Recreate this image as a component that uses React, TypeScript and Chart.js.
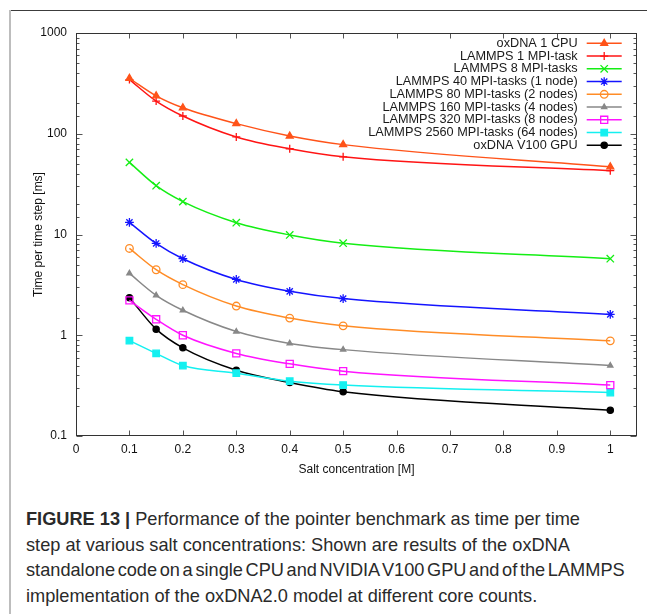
import React, { useEffect, useRef } from 'react';
import { Chart, registerables } from 'chart.js';
import { drawPoint } from 'chart.js/helpers';

Chart.register(...registerables);

// ---- data ----
const saltConcentrations = [0.1, 0.15, 0.2, 0.3, 0.4, 0.5, 1.0];
const oxdnaCpu = [355, 238, 181, 126, 95, 78, 47];
const lammps1 = [345, 211, 150, 93, 71, 59, 43];
const lammps8 = [52, 30.5, 21.2, 13.1, 9.9, 8.2, 5.75];
const lammps40 = [13.2, 8.15, 5.75, 3.58, 2.73, 2.31, 1.61];
const lammps80 = [7.27, 4.47, 3.18, 1.95, 1.48, 1.24, 0.88];
const lammps160 = [4.11, 2.49, 1.77, 1.09, 0.83, 0.72, 0.5];
const lammps320 = [2.22, 1.44, 1.0, 0.66, 0.52, 0.44, 0.32];
const lammps2560 = [0.885, 0.66, 0.5, 0.42, 0.35, 0.32, 0.27];
const oxdnaGpu = [2.36, 1.15, 0.75, 0.45, 0.34, 0.275, 0.18];

const seriesLabels = [
  'oxDNA 1 CPU',
  'LAMMPS 1 MPI-task',
  'LAMMPS 8 MPI-tasks',
  'LAMMPS 40 MPI-tasks (1 node)',
  'LAMMPS 80 MPI-tasks (2 nodes)',
  'LAMMPS 160 MPI-tasks (4 nodes)',
  'LAMMPS 320 MPI-tasks (8 nodes)',
  'LAMMPS 2560 MPI-tasks (64 nodes)',
  'oxDNA V100 GPU',
];
const seriesValues = [oxdnaCpu, lammps1, lammps8, lammps40, lammps80, lammps160, lammps320, lammps2560, oxdnaGpu];

const xTickValues = [0, 0.1, 0.2, 0.3, 0.4, 0.5, 0.6, 0.7, 0.8, 0.9, 1];
const yTickLabels = ['0.1', '1', '10', '100', '1000'];

const xTitle = 'Salt concentration [M]';
const yTitle = 'Time per time step [ms]';

// ---- styles ----
const seriesStyles = [
  { color: '#ff5319', pointStyle: 'triangle', radius: 4, fill: true },
  { color: '#ff1414', pointStyle: 'cross', radius: 4, fill: false },
  { color: '#14ee14', pointStyle: 'crossRot', radius: 5.2, fill: false },
  { color: '#1414ff', pointStyle: 'star', radius: 4.4, fill: false },
  { color: '#ff8c26', pointStyle: 'circle', radius: 3.8, fill: false },
  { color: '#888888', pointStyle: 'triangle', radius: 3, fill: true },
  { color: '#ff14ff', pointStyle: 'rect', radius: 5, fill: false },
  { color: '#14f0f0', pointStyle: 'rect', radius: 4.6, fill: true },
  { color: '#000000', pointStyle: 'circle', radius: 3.1, fill: true },
];

const FONT = '"Liberation Sans", Arial, Helvetica, sans-serif';

const boxTicksPlugin = {
  id: 'boxTicks',
  afterDatasetsDraw(chart: any) {
    const { ctx, chartArea: a, scales } = chart;
    const xs = scales.x;
    const ys = scales.y;
    const L = Math.round(a.left) + 0.5;
    const R = Math.round(a.right) - 0.5;
    const T = Math.round(a.top) + 0.5;
    const B = Math.round(a.bottom) - 0.5;
    ctx.save();
    ctx.strokeStyle = '#555';
    ctx.lineWidth = 1;
    ctx.beginPath();
    xs.ticks.forEach((t: any) => {
      const px = Math.round(xs.getPixelForValue(t.value)) + 0.5;
      ctx.moveTo(px, B);
      ctx.lineTo(px, B - 5);
      ctx.moveTo(px, T);
      ctx.lineTo(px, T + 5);
    });
    ys.ticks.forEach((t: any) => {
      const lg = Math.log10(t.value);
      const major = Math.abs(lg - Math.round(lg)) < 1e-6;
      const len = major ? 6 : 3;
      const py = Math.round(ys.getPixelForValue(t.value)) + 0.5;
      ctx.moveTo(L, py);
      ctx.lineTo(L + len, py);
      ctx.moveTo(R, py);
      ctx.lineTo(R - len, py);
    });
    ctx.stroke();
    ctx.strokeStyle = '#333';
    ctx.strokeRect(L, T, R - L, B - T);
    ctx.restore();
  },
};

const legendPlugin = {
  id: 'gnuLegend',
  afterDraw(chart: any) {
    const { ctx } = chart;
    const textRight = 565.7;
    const lineX0 = 574.7;
    const lineX1 = 609.7;
    const y0 = 31.3;
    const dy = 12.75;
    ctx.save();
    ctx.font = '12.7px ' + FONT;
    ctx.textAlign = 'right';
    ctx.textBaseline = 'middle';
    chart.data.datasets.forEach((ds: any, i: number) => {
      const y = y0 + i * dy;
      ctx.fillStyle = '#1a1a1a';
      ctx.fillText(ds.label, textRight, y);
      ctx.strokeStyle = ds.borderColor;
      ctx.lineWidth = ds.borderWidth;
      ctx.beginPath();
      ctx.moveTo(lineX0, y);
      ctx.lineTo(lineX1, y);
      ctx.stroke();
      ctx.fillStyle = ds.pointBackgroundColor;
      ctx.strokeStyle = ds.pointBorderColor;
      ctx.lineWidth = ds.pointBorderWidth;
      drawPoint(ctx, { pointStyle: ds.pointStyle, radius: ds.pointRadius, rotation: 0, borderWidth: ds.pointBorderWidth }, (lineX0 + lineX1) / 2, y);
    });
    ctx.restore();
  },
};

function ChartCanvas() {
  const ref = useRef<HTMLCanvasElement | null>(null);
  useEffect(() => {
    if (!ref.current) return;
    const datasets = seriesLabels.map((label, i) => {
      const st = seriesStyles[i];
      return {
        label,
        data: saltConcentrations.map((x, j) => ({ x, y: seriesValues[i][j] })),
        borderColor: st.color,
        backgroundColor: st.color,
        borderWidth: 1.5,
        pointStyle: st.pointStyle,
        pointRadius: st.radius,
        pointBorderWidth: 1.3,
        pointBorderColor: st.color,
        pointBackgroundColor: st.fill ? st.color : 'rgba(0,0,0,0)',
        cubicInterpolationMode: 'monotone',
        fill: false,
      };
    });
    const chart = new Chart(ref.current, {
      type: 'line',
      data: { datasets } as any,
      options: {
        animation: false,
        responsive: false,
        devicePixelRatio: 1,
        layout: { padding: { top: 21, right: 10, left: 0, bottom: 0 } },
        plugins: { legend: { display: false }, tooltip: { enabled: false } },
        scales: {
          x: {
            type: 'linear',
            min: 0,
            max: 1.05,
            afterBuildTicks: (scale: any) => {
              scale.ticks = xTickValues.map((v) => ({ value: v }));
            },
            afterFit: (scale: any) => {
              scale.height = 46;
            },
            ticks: {
              autoSkip: false,
              includeBounds: false,
              maxRotation: 0,
              padding: 6,
              color: '#111',
              font: { family: FONT, size: 12 },
              callback: (v: any) => String(Number(Number(v).toFixed(2))),
            },
            grid: { display: false, drawTicks: false, tickLength: 0 },
            border: { display: false },
            title: {
              display: true,
              text: xTitle,
              color: '#111',
              font: { family: FONT, size: 12 },
              padding: { top: 0, bottom: 5 },
            },
          },
          y: {
            type: 'logarithmic',
            min: 0.1,
            max: 1000,
            afterFit: (scale: any) => {
              scale.width = 64;
            },
            ticks: {
              autoSkip: false,
              padding: 9,
              color: '#111',
              font: { family: FONT, size: 12 },
              callback: (v: any) => {
                const lg = Math.log10(Number(v));
                if (Math.abs(lg - Math.round(lg)) > 1e-6) return '';
                return yTickLabels[Math.round(lg) + 1] ?? '';
              },
            },
            grid: { display: false, drawTicks: false, tickLength: 0 },
            border: { display: false },
            title: {
              display: true,
              text: yTitle,
              color: '#111',
              font: { family: FONT, size: 12 },
              padding: { top: 19, bottom: 0 },
            },
          },
        },
      } as any,
      plugins: [boxTicksPlugin, legendPlugin],
    });
    return () => chart.destroy();
  }, []);
  return (
    <canvas
      ref={ref}
      width={635}
      height={470}
      style={{ position: 'absolute', left: 12, top: 12, width: 635, height: 470 }}
    />
  );
}

export default function App() {
  return (
    <div
      style={{
        position: 'absolute',
        left: 0,
        top: 0,
        width: 647,
        height: 614,
        overflow: 'hidden',
        background: '#fff',
      }}
    >
      <div style={{ position: 'absolute', left: 9, top: 10, width: 638, height: 1, background: '#3c3c3c' }} />
      <div style={{ position: 'absolute', left: 9, top: 10, width: 2, height: 604, background: '#bdbdbd' }} />
      <ChartCanvas />
      <div
        style={{
          position: 'absolute',
          left: 26,
          top: 507,
          font: '18.2px ' + FONT,
          lineHeight: '25.5px',
          color: '#2a2a2a',
          whiteSpace: 'nowrap',
        }}
      >
        <div>
          <b>FIGURE 13 |</b> Performance of the pointer benchmark as time per time
        </div>
        <div>step at various salt concentrations: Shown are results of the oxDNA</div>
        <div style={{ wordSpacing: '-2.4px' }}>standalone code on a single CPU and NVIDIA V100 GPU and of the LAMMPS</div>
        <div>implementation of the oxDNA2.0 model at different core counts.</div>
      </div>
    </div>
  );
}
